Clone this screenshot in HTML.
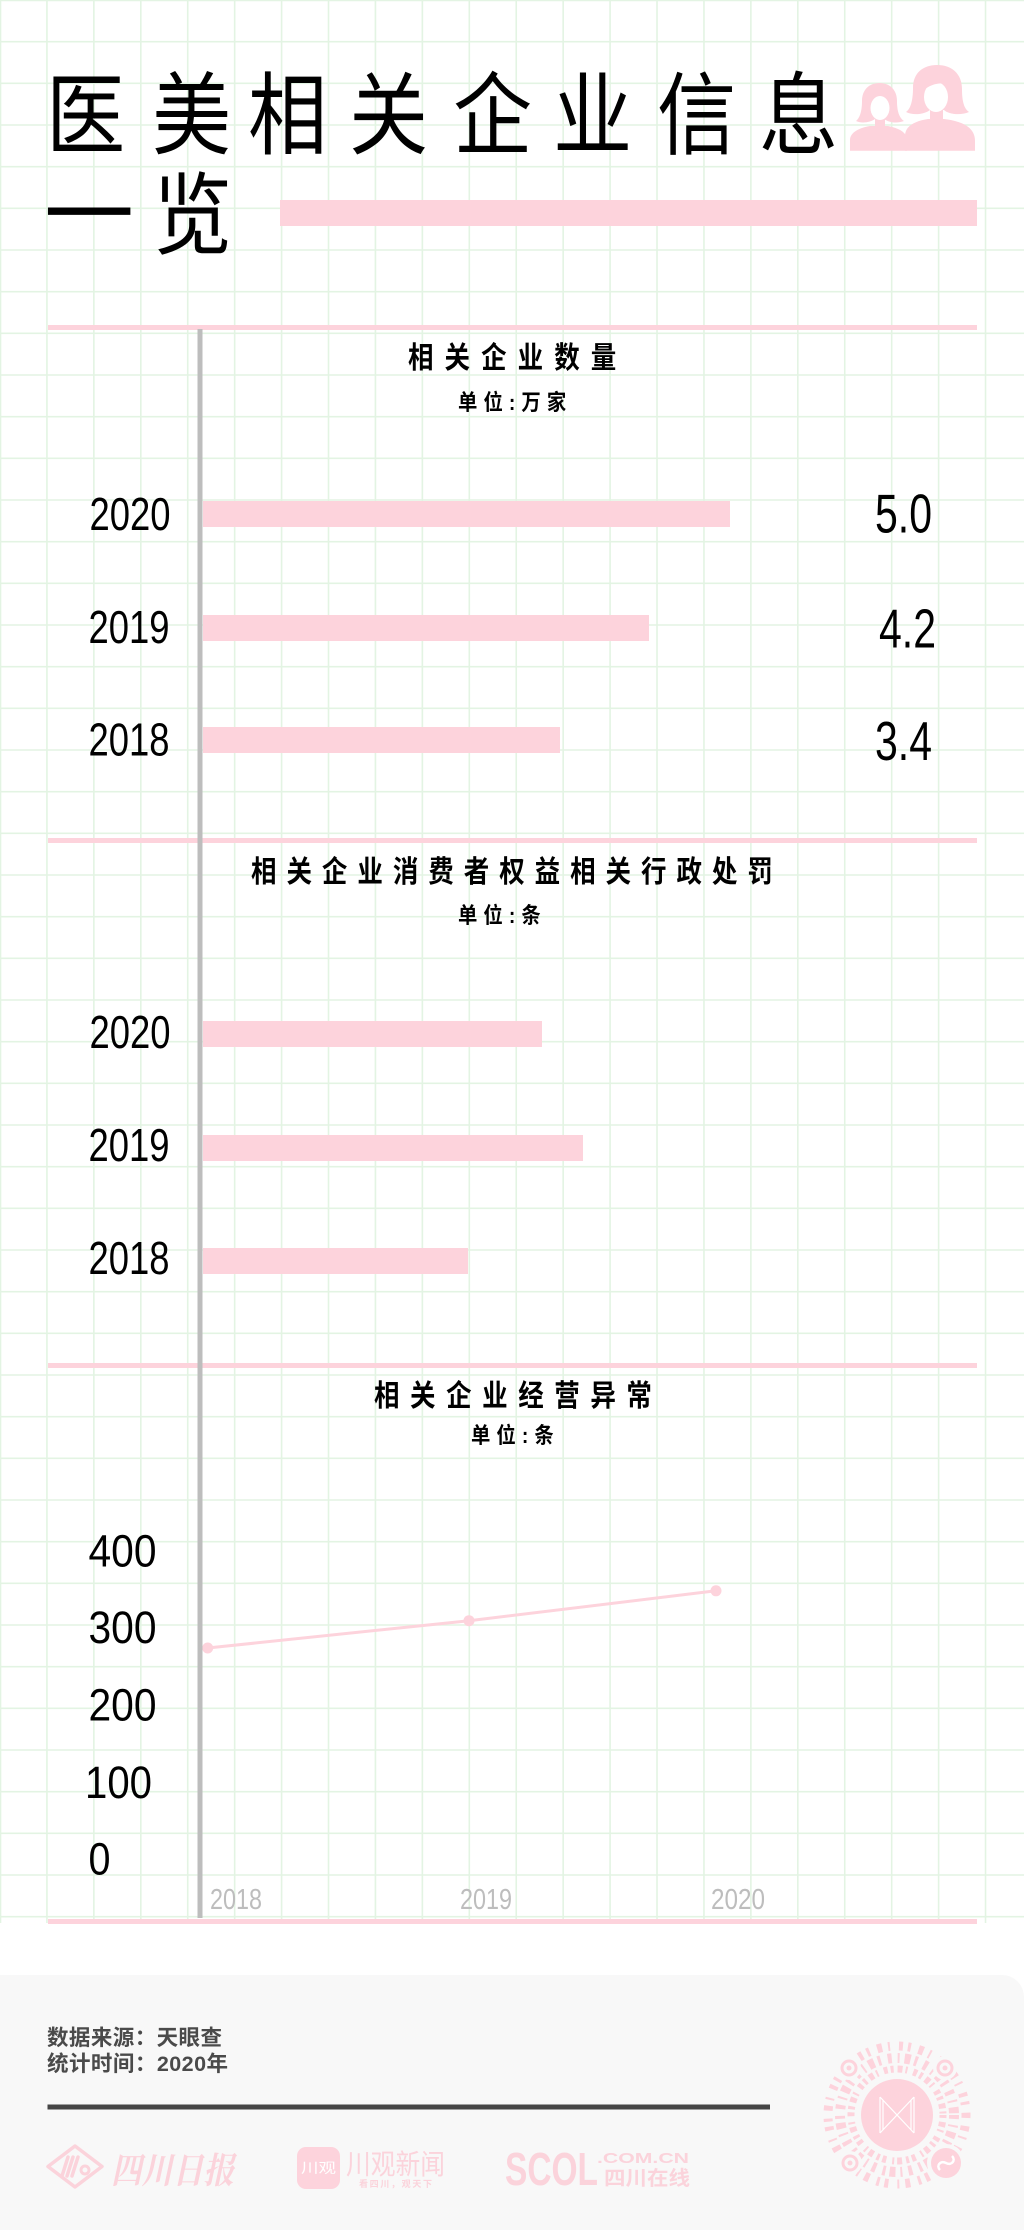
<!DOCTYPE html>
<html><head><meta charset="utf-8">
<style>
html,body{margin:0;padding:0;background:#fff;}
svg{display:block;}
.cjk{font-family:"Liberation Sans","Noto Sans CJK SC",sans-serif;}
.serif{font-family:"Liberation Serif","Noto Serif CJK SC",serif;}
.num{font-family:"Liberation Sans",sans-serif;}
</style></head>
<body>
<svg width="1024" height="2230" viewBox="0 0 1024 2230" xmlns="http://www.w3.org/2000/svg">
<rect width="1024" height="2230" fill="#ffffff"/>

<!-- grid -->
<path fill="none" stroke="#e3f4e3" stroke-width="1.6" d="
M0.5 0V1923 M46.93 0V1923 M93.86 0V1923 M140.79 0V1923 M187.72 0V1923 M234.65 0V1923 M281.58 0V1923 M328.51 0V1923 M375.44 0V1923 M422.37 0V1923 M469.3 0V1923 M516.23 0V1923 M563.16 0V1923 M610.09 0V1923 M657.02 0V1923 M703.95 0V1923 M750.88 0V1923 M797.81 0V1923 M844.74 0V1923 M891.67 0V1923 M938.6 0V1923 M985.53 0V1923
M0 0.5H1024 M0 41.67H1024 M0 83.33H1024 M0 125H1024 M0 166.67H1024 M0 208.33H1024 M0 250H1024 M0 291.67H1024 M0 333.33H1024 M0 375H1024 M0 416.67H1024 M0 458.33H1024 M0 500H1024 M0 541.67H1024 M0 583.33H1024 M0 625H1024 M0 666.67H1024 M0 708.33H1024 M0 750H1024 M0 791.67H1024 M0 833.33H1024 M0 875H1024 M0 916.67H1024 M0 958.33H1024 M0 1000H1024 M0 1041.67H1024 M0 1083.33H1024 M0 1125H1024 M0 1166.67H1024 M0 1208.33H1024 M0 1250H1024 M0 1291.67H1024 M0 1333.33H1024 M0 1375H1024 M0 1416.67H1024 M0 1458.33H1024 M0 1500H1024 M0 1541.67H1024 M0 1583.33H1024 M0 1625H1024 M0 1666.67H1024 M0 1708.33H1024 M0 1750H1024 M0 1791.67H1024 M0 1833.33H1024 M0 1875H1024 M0 1916.67H1024"/>

<!-- main title -->
<g class="cjk" font-size="90" fill="#000">
  <text transform="translate(46,147) scale(0.88,1)">医</text>
  <text transform="translate(152,147) scale(0.88,1)">美</text>
  <text transform="translate(248,147) scale(0.88,1)">相</text>
  <text transform="translate(349,147) scale(0.88,1)">关</text>
  <text transform="translate(453,147) scale(0.88,1)">企</text>
  <text transform="translate(553,147) scale(0.88,1)">业</text>
  <text transform="translate(657,147) scale(0.88,1)">信</text>
  <text transform="translate(759,147) scale(0.88,1)">息</text>
  <text transform="translate(44,246)">一</text>
  <text transform="translate(153,247) scale(0.88,1)">览</text>
</g>
<rect x="280" y="200" width="697" height="26" fill="#fdd3dc"/>

<!-- icon: two women -->
<g fill="#fdd3dc">
  <path d="M850 150.7 V140 C850 133 858 128 870 126 L888 126 C898 128 907 132 907 140 V150.7 Z"/>
  <path d="M856 121 C861 117 862 108 862 101 C862 90 869 83 879.5 83 C890 83 897 90 897 101 C897 108 898 117 904 121 C896 124 888 122 884 119 L875 119 C871 122 862 124 856 121 Z"/>
  <rect x="875" y="115" width="10" height="13"/>
  <path d="M905 150.7 V136 C905 126 915 121 928 119 L944 119 C960 121 975 126 975 141 V150.7 Z"/>
  <path d="M906 112 C912 108 913 96 913 88 C913 73 923 65 937 65 C952 65 962 74 962 89 C962 98 963 108 969 112 C960 116 948 114 944 110 L930 110 C925 114 914 116 906 112 Z"/>
  <rect x="930" y="106" width="13" height="15"/>
</g>
<ellipse cx="880" cy="108" rx="9.5" ry="12" fill="#fff"/>
<ellipse cx="936" cy="97" rx="12" ry="15" fill="#fff"/>
<path d="M870 100 C874 96 880 93 890 94 L890 92 C882 90 873 92 870 100 Z" fill="#fdd3dc"/>
<path d="M924 90 C930 85 938 82 948 84 L948 80 C938 78 928 81 924 90 Z" fill="#fdd3dc"/>

<!-- pink separators -->
<rect x="48" y="325" width="929" height="5" fill="#fdd3dc"/>
<rect x="48" y="838" width="929" height="5" fill="#fdd3dc"/>
<rect x="48" y="1363" width="929" height="5" fill="#fdd3dc"/>
<rect x="48" y="1919" width="929" height="5" fill="#fdd3dc"/>

<!-- chart 1 -->
<text class="cjk" font-size="30" font-weight="bold" fill="#000" transform="translate(408,368) scale(0.85,1)" textLength="245" lengthAdjust="spacing">相关企业数量</text>
<text class="cjk" font-size="22" font-weight="bold" fill="#000" transform="translate(458,410) scale(0.88,1)" textLength="123" lengthAdjust="spacing">单位:万家</text>

<rect x="203" y="501" width="527" height="26" fill="#fdd3dc"/>
<rect x="203" y="615" width="446" height="26" fill="#fdd3dc"/>
<rect x="203" y="727" width="357" height="26" fill="#fdd3dc"/>

<text class="num" font-size="46" fill="#000" x="89.5" y="530" textLength="81" lengthAdjust="spacingAndGlyphs">2020</text>
<text class="num" font-size="46" fill="#000" x="88.5" y="643" textLength="81" lengthAdjust="spacingAndGlyphs">2019</text>
<text class="num" font-size="46" fill="#000" x="88.5" y="755.5" textLength="81" lengthAdjust="spacingAndGlyphs">2018</text>

<text class="num" font-size="55" fill="#000" x="875" y="532.5" textLength="57" lengthAdjust="spacingAndGlyphs">5.0</text>
<text class="num" font-size="55" fill="#000" x="879" y="647.5" textLength="57" lengthAdjust="spacingAndGlyphs">4.2</text>
<text class="num" font-size="55" fill="#000" x="875" y="760" textLength="57" lengthAdjust="spacingAndGlyphs">3.4</text>

<!-- chart 2 -->
<text class="cjk" font-size="30" font-weight="bold" fill="#000" transform="translate(251,882) scale(0.85,1)" textLength="614" lengthAdjust="spacing">相关企业消费者权益相关行政处罚</text>
<text class="cjk" font-size="22" font-weight="bold" fill="#000" transform="translate(458,923) scale(0.88,1)" textLength="94" lengthAdjust="spacing">单位:条</text>

<rect x="203" y="1021" width="339" height="26" fill="#fdd3dc"/>
<rect x="203" y="1135" width="380" height="26" fill="#fdd3dc"/>
<rect x="203" y="1248" width="265" height="26" fill="#fdd3dc"/>

<text class="num" font-size="46" fill="#000" x="89.5" y="1048" textLength="81" lengthAdjust="spacingAndGlyphs">2020</text>
<text class="num" font-size="46" fill="#000" x="88.5" y="1161" textLength="81" lengthAdjust="spacingAndGlyphs">2019</text>
<text class="num" font-size="46" fill="#000" x="88.5" y="1274" textLength="81" lengthAdjust="spacingAndGlyphs">2018</text>

<!-- chart 3 -->
<text class="cjk" font-size="30" font-weight="bold" fill="#000" transform="translate(374,1406) scale(0.85,1)" textLength="327" lengthAdjust="spacing">相关企业经营异常</text>
<text class="cjk" font-size="22" font-weight="bold" fill="#000" transform="translate(471,1443) scale(0.88,1)" textLength="94" lengthAdjust="spacing">单位:条</text>

<text class="num" font-size="45" fill="#000" x="88.5" y="1566.5" textLength="68" lengthAdjust="spacingAndGlyphs">400</text>
<text class="num" font-size="45" fill="#000" x="88.5" y="1643" textLength="68" lengthAdjust="spacingAndGlyphs">300</text>
<text class="num" font-size="45" fill="#000" x="88.5" y="1720.5" textLength="68" lengthAdjust="spacingAndGlyphs">200</text>
<text class="num" font-size="45" fill="#000" x="85" y="1798" textLength="67" lengthAdjust="spacingAndGlyphs">100</text>
<text class="num" font-size="45" fill="#000" x="88.5" y="1874.5" textLength="22" lengthAdjust="spacingAndGlyphs">0</text>

<polyline points="207.7,1648 469,1620.7 716,1590.8" fill="none" stroke="#fdd3dc" stroke-width="3"/>
<circle cx="207.7" cy="1648" r="5.5" fill="#fdd3dc"/>
<circle cx="469" cy="1620.7" r="5.5" fill="#fdd3dc"/>
<circle cx="716" cy="1590.8" r="5.5" fill="#fdd3dc"/>

<text class="num" font-size="29" fill="#bdbdbd" x="210" y="1909" textLength="52" lengthAdjust="spacingAndGlyphs">2018</text>
<text class="num" font-size="29" fill="#bdbdbd" x="460" y="1909" textLength="52" lengthAdjust="spacingAndGlyphs">2019</text>
<text class="num" font-size="29" fill="#bdbdbd" x="711" y="1909" textLength="54" lengthAdjust="spacingAndGlyphs">2020</text>

<!-- gray axis line -->
<rect x="197.5" y="329" width="5" height="1589" fill="#bdbdbd"/>

<!-- footer -->
<path d="M0 1975 H1002 A22 22 0 0 1 1024 1997 V2230 H0 Z" fill="#f8f8f8"/>
<text class="cjk" font-size="21.5" font-weight="bold" fill="#4a4a4a" x="47" y="2045" textLength="175" lengthAdjust="spacing">数据来源：天眼查</text>
<text class="cjk" font-size="21.5" font-weight="bold" fill="#4a4a4a" x="47" y="2071" textLength="181" lengthAdjust="spacing">统计时间：2020年</text>
<rect x="47.5" y="2104.5" width="722.5" height="5" fill="#454545"/>

<!-- logo 1: 四川日报 -->
<g fill="none" stroke="#fbd3db" stroke-width="3.5" stroke-linejoin="round">
  <path d="M75 2146 L102 2166.5 L75 2187 L48 2166.5 Z"/>
</g>
<g stroke="#fbd3db" stroke-width="3.5" stroke-linecap="round">
  <line x1="62" y1="2176" x2="68" y2="2157"/>
  <line x1="67" y1="2176" x2="73" y2="2157"/>
  <line x1="72" y1="2176" x2="78" y2="2157"/>
</g>
<circle cx="85" cy="2170" r="4" fill="none" stroke="#fbd3db" stroke-width="3"/>
<text class="serif" font-size="36" font-weight="bold" fill="#fbd3db" x="111" y="2183" textLength="123" lengthAdjust="spacingAndGlyphs" font-style="italic">四川日报</text>

<!-- logo 2: 川观新闻 -->
<rect x="297" y="2147" width="43" height="42" rx="9" fill="#fdd3dc"/>
<text class="cjk" font-size="14" fill="#ffffff" x="301" y="2173" textLength="35" lengthAdjust="spacingAndGlyphs">川观</text>
<text class="cjk" font-size="28" fill="#fbd3db" x="346" y="2174" textLength="99" lengthAdjust="spacingAndGlyphs">川观新闻</text>
<text class="cjk" font-size="9" font-weight="bold" fill="#fbd3db" x="359" y="2187" textLength="73" lengthAdjust="spacing">看四川，观天下</text>

<!-- logo 3: SCOL -->
<text class="num" font-size="46" font-weight="bold" fill="#fbd3db" x="505" y="2185" textLength="93" lengthAdjust="spacingAndGlyphs">SCOL</text>
<text class="num" font-size="15" font-weight="bold" fill="#fbd3db" x="597" y="2163" textLength="92" lengthAdjust="spacingAndGlyphs">.COM.CN</text>
<text class="cjk" font-size="20" font-weight="bold" fill="#fbd3db" x="604" y="2185" textLength="86" lengthAdjust="spacingAndGlyphs">四川在线</text>

<!-- QR mini-program code -->
<g fill="none" stroke="#fdd3dc" stroke-linecap="butt">
  <circle cx="897" cy="2115" r="46" stroke-width="7" stroke-dasharray="3 4 5 3 2 6 4 3"/>
  <circle cx="897" cy="2115" r="57" stroke-width="10" stroke-dasharray="4 6 2 5 6 4 3 7"/>
  <circle cx="897" cy="2115" r="69" stroke-width="9" stroke-dasharray="3 8 5 6 2 9 4 5"/>
</g>
<g fill="#f8f8f8">
  <circle cx="849" cy="2068" r="12"/>
  <circle cx="945" cy="2068" r="12"/>
  <circle cx="850" cy="2163" r="12"/>
  <circle cx="946" cy="2163" r="19"/>
  <circle cx="897" cy="2115" r="39"/>
</g>
<g fill="none" stroke="#fdd3dc" stroke-width="3">
  <circle cx="849" cy="2068" r="7"/>
  <circle cx="945" cy="2068" r="7"/>
  <circle cx="850" cy="2163" r="7"/>
</g>
<g fill="#fdd3dc">
  <circle cx="849" cy="2068" r="2.5"/>
  <circle cx="945" cy="2068" r="2.5"/>
  <circle cx="850" cy="2163" r="2.5"/>
  <circle cx="897" cy="2115" r="36"/>
  <circle cx="946" cy="2163" r="15"/>
</g>
<g stroke="#ffffff" stroke-width="1.2" fill="none">
  <line x1="880" y1="2097" x2="880" y2="2133"/>
  <line x1="914" y1="2097" x2="914" y2="2133"/>
  <line x1="880" y1="2097" x2="914" y2="2133"/>
  <line x1="914" y1="2097" x2="880" y2="2133"/>
  <line x1="883" y1="2100" x2="883" y2="2130"/>
  <line x1="911" y1="2100" x2="911" y2="2130"/>
  <path d="M940 2170 C936 2166 940 2160 946 2163 C952 2166 956 2160 952 2156" stroke-width="2.5"/>
</g>
</svg>
</body></html>
